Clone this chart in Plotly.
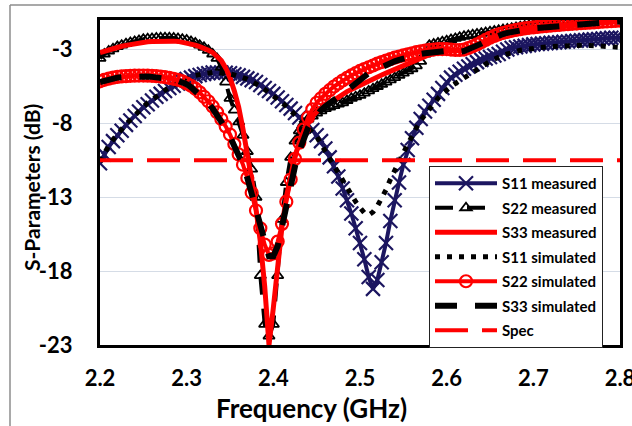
import numpy as np
import plotly.graph_objects as go

# Frequency sweep (GHz), 5 MHz steps from 2.2 to 2.8
freq = np.round(np.arange(2.2, 2.8 + 1e-9, 0.005), 3).tolist()

s11_measured = [
    -10.7, -10.1, -9.6, -9.2, -8.8, -8.5, -8.1, -7.8, -7.5, -7.2,
    -6.9, -6.7, -6.45, -6.2, -6.0, -5.8, -5.6, -5.45, -5.3, -5.15,
    -5.0, -4.9, -4.8, -4.72, -4.65, -4.6, -4.55, -4.55, -4.55, -4.57,
    -4.6, -4.67, -4.75, -4.85, -4.95, -5.07, -5.2, -5.4, -5.6, -5.8,
    -6.0, -6.25, -6.5, -6.75, -7.0, -7.3, -7.6, -7.85, -8.1, -8.45,
    -8.8, -9.2, -9.7, -10.3, -10.9, -11.6, -12.4, -13.2, -14.1, -15.1,
    -16.1, -17.2, -18.4, -19.2, -18.6, -17.4, -16.1, -14.6, -13.2, -12.0,
    -10.8, -9.8, -9.0, -8.3, -7.7, -7.2, -6.8, -6.4, -6.0, -5.6,
    -5.2, -4.9, -4.7, -4.5, -4.3, -4.15, -4.0, -3.85, -3.7, -3.6,
    -3.5, -3.4, -3.3, -3.15, -3.0, -2.9, -2.85, -2.8, -2.75, -2.7,
    -2.65, -2.62, -2.6, -2.57, -2.55, -2.52, -2.5, -2.47, -2.45, -2.42,
    -2.4, -2.38, -2.35, -2.33, -2.3, -2.28, -2.25, -2.23, -2.2, -2.2,
    -2.2,
]

s22_measured = [
    -3.6, -3.3, -3.1, -2.95, -2.8, -2.7, -2.6, -2.52, -2.45, -2.38,
    -2.3, -2.27, -2.25, -2.22, -2.2, -2.2, -2.2, -2.22, -2.25, -2.3,
    -2.35, -2.45, -2.55, -2.7, -2.85, -3.05, -3.3, -3.6, -4.2, -5.2,
    -6.3, -7.1, -7.9, -8.8, -9.9, -11.1, -13.0, -18.3, -21.6, -22.4,
    -21.6, -18.3, -14.5, -12.0, -10.3, -9.2, -8.5, -8.0, -7.7, -7.5,
    -7.3, -7.15, -7.0, -6.9, -6.8, -6.7, -6.6, -6.45, -6.3, -6.2,
    -6.1, -5.95, -5.8, -5.65, -5.5, -5.35, -5.2, -5.05, -4.9, -4.75,
    -4.6, -4.45, -4.3, -4.1, -3.8, -3.3, -2.7, -2.62, -2.55, -2.47,
    -2.4, -2.32, -2.25, -2.17, -2.1, -2.05, -2.0, -1.95, -1.9, -1.85,
    -1.8, -1.75, -1.7, -1.65, -1.6, -1.55, -1.5, -1.45, -1.4, -1.36,
    -1.32, -1.28, -1.25, -1.22, -1.19, -1.16, -1.13, -1.1, -1.08, -1.06,
    -1.04, -1.02, -1.0, -0.98, -0.97, -0.96, -0.95, -0.94, -0.93, -0.92,
    -0.92,
]

s33_measured = [
    -3.2, -3.1, -3.0, -2.92, -2.85, -2.78, -2.72, -2.66, -2.6, -2.55,
    -2.5, -2.47, -2.45, -2.43, -2.42, -2.42, -2.42, -2.43, -2.45, -2.5,
    -2.55, -2.62, -2.7, -2.8, -2.9, -3.05, -3.2, -3.45, -3.75, -4.25,
    -4.9, -5.8, -6.9, -8.4, -10.0, -11.8, -13.8, -16.0, -19.0, -23.0,
    -20.5, -17.3, -15.0, -13.0, -11.4, -10.2, -9.3, -8.6, -8.0, -7.55,
    -7.2, -7.0, -6.8, -6.6, -6.4, -6.2, -6.0, -5.85, -5.7, -5.55,
    -5.4, -5.25, -5.1, -4.97, -4.85, -4.72, -4.6, -4.47, -4.35, -4.22,
    -4.1, -3.97, -3.85, -3.72, -3.6, -3.47, -3.35, -3.27, -3.2, -3.15,
    -3.1, -3.1, -3.1, -3.08, -3.05, -2.98, -2.9, -2.8, -2.7, -2.55,
    -2.4, -2.25, -2.1, -2.0, -1.9, -1.85, -1.8, -1.75, -1.7, -1.65,
    -1.6, -1.57, -1.55, -1.52, -1.5, -1.47, -1.45, -1.42, -1.4, -1.37,
    -1.35, -1.32, -1.3, -1.27, -1.25, -1.22, -1.2, -1.17, -1.15, -1.12,
    -1.1,
]

s11_simulated = [
    -10.6, -10.0, -9.5, -9.1, -8.7, -8.4, -8.05, -7.75, -7.45, -7.15,
    -6.85, -6.6, -6.4, -6.15, -5.95, -5.75, -5.55, -5.4, -5.25, -5.1,
    -4.95, -4.85, -4.75, -4.68, -4.62, -4.58, -4.55, -4.55, -4.57, -4.6,
    -4.65, -4.72, -4.8, -4.9, -5.0, -5.15, -5.3, -5.5, -5.7, -5.9,
    -6.1, -6.35, -6.6, -6.85, -7.1, -7.4, -7.7, -8.0, -8.3, -8.6,
    -8.9, -9.4, -9.9, -10.4, -10.9, -11.3, -11.8, -12.3, -12.8, -13.3,
    -13.7, -14.05, -14.2, -14.0, -13.6, -13.1, -12.5, -11.8, -11.1, -10.6,
    -10.0, -9.4, -8.8, -8.3, -7.8, -7.4, -7.0, -6.65, -6.3, -6.0,
    -5.7, -5.5, -5.3, -5.1, -4.9, -4.7, -4.5, -4.3, -4.1, -3.95,
    -3.8, -3.65, -3.5, -3.4, -3.3, -3.2, -3.1, -3.05, -3.0, -2.95,
    -2.9, -2.87, -2.85, -2.82, -2.8, -2.78, -2.75, -2.75, -2.72, -2.72,
    -2.7, -2.7, -2.7, -2.72, -2.75, -2.77, -2.8, -2.82, -2.85, -2.85,
    -2.85,
]

s22_simulated = [
    -5.15, -5.05, -4.97, -4.9, -4.85, -4.82, -4.8, -4.78, -4.77, -4.76,
    -4.76, -4.77, -4.78, -4.8, -4.83, -4.87, -4.92, -4.98, -5.05, -5.15,
    -5.3, -5.45, -5.65, -5.9, -6.2, -6.5, -6.85, -7.25, -7.7, -8.2,
    -8.75, -9.4, -10.1, -10.8, -11.7, -12.7, -13.9, -15.1, -16.2, -16.9,
    -16.8, -16.0, -14.8, -13.3, -11.8, -10.4, -9.3, -8.4, -7.6, -7.05,
    -6.6, -6.3, -6.0, -5.75, -5.5, -5.3, -5.1, -4.92, -4.75, -4.6,
    -4.45, -4.32, -4.2, -4.08, -3.95, -3.85, -3.75, -3.65, -3.55, -3.47,
    -3.4, -3.32, -3.25, -3.18, -3.12, -3.07, -3.02, -3.0, -2.97, -2.97,
    -2.97, -3.0, -3.03, -3.03, -3.0, -2.9, -2.78, -2.65, -2.5, -2.35,
    -2.2, -2.08, -1.97, -1.88, -1.8, -1.73, -1.67, -1.62, -1.57, -1.53,
    -1.5, -1.47, -1.44, -1.41, -1.38, -1.35, -1.33, -1.3, -1.28, -1.26,
    -1.24, -1.22, -1.2, -1.18, -1.16, -1.14, -1.12, -1.1, -1.08, -1.06,
    -1.05,
]

s33_simulated = [
    -5.2, -5.1, -5.0, -4.95, -4.9, -4.87, -4.85, -4.83, -4.82, -4.82,
    -4.82, -4.83, -4.85, -4.87, -4.9, -4.95, -5.0, -5.05, -5.12, -5.2,
    -5.35, -5.55, -5.8, -6.05, -6.35, -6.65, -7.0, -7.4, -7.85, -8.35,
    -8.9, -9.5, -10.15, -10.8, -11.7, -12.7, -13.9, -15.0, -16.0, -17.0,
    -17.0, -16.3, -15.0, -13.6, -12.2, -10.9, -9.9, -9.0, -8.3, -7.8,
    -7.4, -7.1, -6.85, -6.6, -6.4, -6.2, -6.0, -5.75, -5.5, -5.25,
    -5.0, -4.8, -4.6, -4.45, -4.3, -4.15, -4.0, -3.9, -3.8, -3.7,
    -3.6, -3.5, -3.42, -3.36, -3.3, -3.25, -3.2, -3.16, -3.13, -3.12,
    -3.1, -3.12, -3.15, -3.15, -3.1, -3.0, -2.88, -2.75, -2.6, -2.45,
    -2.3, -2.17, -2.05, -1.95, -1.87, -1.8, -1.74, -1.69, -1.64, -1.6,
    -1.56, -1.53, -1.5, -1.47, -1.44, -1.41, -1.38, -1.36, -1.34, -1.32,
    -1.3, -1.28, -1.26, -1.24, -1.22, -1.2, -1.18, -1.16, -1.14, -1.12,
    -1.1,
]

# Return-loss specification level (dB) across the band
spec_freq = [2.2, 2.8]
spec_level = [-10.5, -10.5]

x_ticks = [2.2, 2.3, 2.4, 2.5, 2.6, 2.7, 2.8]
y_ticks = [-23, -18, -13, -8, -3]

NAVY = "#1c1660"
RED = "#ff0000"
BLACK = "#000000"
FONT = "Lato"

W, H = 632, 426
L, R, T, B = 100, 12, 20, 81


def px_x(px):
    return (px - L) / (W - L - R)


def px_y(py):
    return (H - B - py) / (H - T - B)


fig = go.Figure()

fig.add_trace(go.Scatter(
    x=freq, y=s11_measured, name="S11 measured", mode="lines+markers",
    line=dict(color=NAVY, width=4),
    marker=dict(symbol="x-thin", size=14, color=NAVY, line=dict(color=NAVY, width=2.2)),
    legendgroup="a",
))
fig.add_trace(go.Scatter(
    x=freq, y=s22_measured, name="S22 measured", mode="lines+markers",
    line=dict(color=BLACK, width=4, dash="18px,14px"),
    marker=dict(symbol="triangle-up-open", size=10, color=BLACK, line=dict(color=BLACK, width=1.8)),
    legendgroup="b",
))
fig.add_trace(go.Scatter(
    x=freq, y=s33_measured, name="S33 measured", mode="lines",
    line=dict(color=RED, width=5),
    legendgroup="c",
))
fig.add_trace(go.Scatter(
    x=freq, y=s11_simulated, name="S11 simulated", mode="lines",
    line=dict(color=BLACK, width=5, dash="5px,7px"),
    legendgroup="d",
))
fig.add_trace(go.Scatter(
    x=freq, y=s22_simulated, name="S22 simulated", mode="lines+markers",
    line=dict(color=RED, width=4),
    marker=dict(symbol="circle-open", size=12, color=RED, line=dict(color=RED, width=2.2)),
    legendgroup="e",
))
fig.add_trace(go.Scatter(
    x=freq, y=s33_simulated, name="S33 simulated", mode="lines",
    line=dict(color=BLACK, width=6, dash="22px,18px"),
    legendgroup="f",
))
fig.add_trace(go.Scatter(
    x=spec_freq, y=spec_level, name="Spec", mode="lines",
    line=dict(color=RED, width=4, dash="33px,14px"),
    legendgroup="g",
))

axis_common = dict(
    showline=True, linecolor=BLACK, linewidth=3, mirror=True,
    ticks="", layer="below traces", automargin=False,
    tickfont=dict(family=FONT, size=22, color=BLACK, weight="bold"),
    zeroline=False,
)

fig.update_xaxes(
    range=[2.2, 2.8], tickvals=x_ticks, ticktext=[f"{v:.1f}" for v in x_ticks],
    showgrid=False, ticklabelstandoff=12, ticklabeloverflow="allow",
    **axis_common,
)
fig.update_yaxes(
    range=[-23, -1], tickvals=y_ticks, ticktext=[str(v) for v in y_ticks],
    showgrid=True, gridcolor="#d5dce6", gridwidth=1,
    ticklabelstandoff=20, **axis_common,
)

fig.add_annotation(
    text="Frequency (GHz)", xref="paper", yref="paper",
    x=px_x(311), y=px_y(408), xanchor="center", yanchor="middle", showarrow=False,
    font=dict(family=FONT, size=26, color=BLACK, weight="bold"),
)
fig.add_annotation(
    text="S-Parameters (dB)", xref="paper", yref="paper", textangle=-90,
    x=px_x(31), y=px_y(188), xanchor="center", yanchor="middle", showarrow=False,
    font=dict(family=FONT, size=21, color=BLACK, weight="bold"),
)

# Outer chart frame (left and top edges)
fig.add_shape(type="line", xref="paper", yref="paper",
              x0=px_x(10), x1=px_x(10), y0=px_y(5), y1=px_y(440),
              line=dict(color="#8c8c8c", width=1.5))
fig.add_shape(type="line", xref="paper", yref="paper",
              x0=px_x(10), x1=px_x(650), y0=px_y(5), y1=px_y(5),
              line=dict(color="#8c8c8c", width=1.5))

fig.update_layout(
    width=W, height=H,
    margin=dict(l=L, r=R, t=T, b=B, autoexpand=False),
    paper_bgcolor="white", plot_bgcolor="white",
    showlegend=True,
    legend=dict(
        x=px_x(429), y=px_y(166), xanchor="left", yanchor="top",
        bgcolor="white", bordercolor="#222222", borderwidth=1,
        font=dict(family=FONT, size=15, color=BLACK, weight="bold"),
        itemwidth=62, tracegroupgap=2,
    ),
)

fig.write_html("out.html")
